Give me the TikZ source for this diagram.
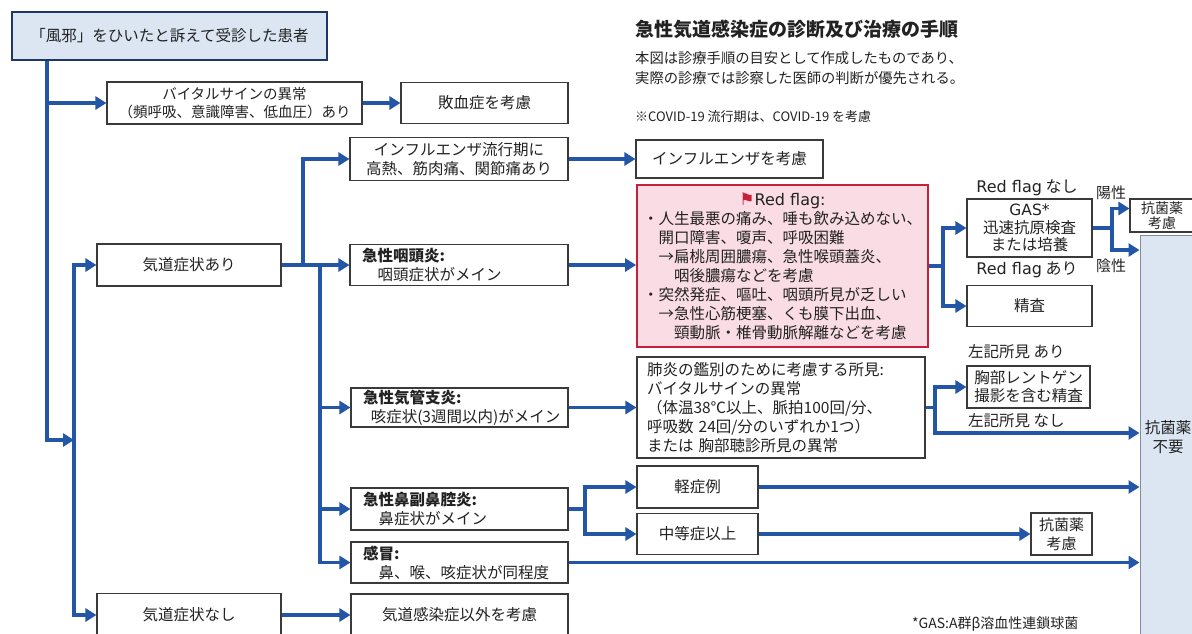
\documentclass[tikz,border=0pt]{standalone}
\usepackage{fontspec}
\setmainfont{Noto Sans CJK JP}
\newfontfamily\dv{DejaVu Sans}
\usetikzlibrary{arrows.meta}
\definecolor{arrc}{HTML}{2356A6}
\definecolor{boxc}{HTML}{3A3A3A}
\definecolor{txt}{HTML}{222222}
\definecolor{navy}{HTML}{1F3763}
\definecolor{lblue}{HTML}{DCE6F3}
\definecolor{pinkf}{HTML}{FADCE5}
\definecolor{rfred}{HTML}{C8203A}
\definecolor{bigc}{HTML}{7F8C9C}
\newcommand\bxf{\fontsize{15.5}{19}\selectfont}
\begin{document}
\begin{tikzpicture}[x=1pt,y=-1pt,
 box/.style={draw=boxc,line width=1.1pt,fill=white,text=txt,inner sep=0pt,align=center,font=\bxf},
 lbox/.style={box,align=left,inner xsep=12pt},
 arr/.style={draw=arrc,line width=3.8pt,-{Triangle[length=11pt,width=13pt]},line join=miter},
 ln/.style={draw=arrc,line width=3.8pt},
 lbl/.style={text=txt,inner sep=0pt,font=\bxf}
]
\clip (0,0) rectangle (1192,633);
\fill[white] (0,0) rectangle (1192,633);

% titles
\node[anchor=west,text=txt,inner sep=0pt,font=\fontsize{19}{22}\selectfont\bfseries] (title) at (635,29) {急性気道感染症の診断及び治療の手順};
\node[anchor=west,text=txt,inner sep=0pt,align=left,font=\fontsize{14.3}{20}\selectfont] (sub) at (635,68) {本図は診療手順の目安として作成したものであり、\\実際の診療では診察した医師の判断が優先される。};
\node[anchor=west,text=txt,inner sep=0pt,font=\fontsize{13}{16}\selectfont] (covid) at (635,117) {※COVID-19 流行期は、COVID-19 を考慮};
\node[anchor=west,text=txt,inner sep=0pt,font=\fontsize{14}{16}\selectfont] (foot) at (912,624) {*GAS:A群β溶血性連鎖球菌};

% big box
\node[box,fill=lblue,draw=bigc,line width=1pt,minimum width=56pt,minimum height=405pt] (big) at (1168,437.5) {抗菌薬\\不要};

% nodes
\node[box,fill=lblue,draw=navy,line width=2.4pt,minimum width=315pt,minimum height=48pt] (top) at (169.5,36) {「風邪」をひいたと訴えて受診した患者};
\node[box,minimum width=255pt,minimum height=42pt,font=\fontsize{14.5}{18}\selectfont] (vital) at (234.5,103) {バイタルサインの異常\\（頻呼吸、意識障害、低血圧）あり};
\node[box,minimum width=167pt,minimum height=41pt] (sepsis) at (484.5,103) {敗血症を考慮};
\node[box,minimum width=184pt,minimum height=42pt] (ari) at (189,265) {気道症状あり};
\node[box,minimum width=184pt,minimum height=43pt] (nashi) at (189,615) {気道症状なし};

\node[box,minimum width=218pt,minimum height=43pt] (flu) at (459,159) {インフルエンザ流行期に\\高熱、筋肉痛、関節痛あり};
\node[lbox,text width=194pt,minimum height=41pt] (pharyn) at (459,265) {\textbf{急性咽頭炎:}\\\hspace*{1em}咽頭症状がメイン};
\node[lbox,text width=193pt,minimum height=39pt] (bronch) at (459.5,407.5) {\textbf{急性気管支炎:}\\\hspace*{0.5em}咳症状(3週間以内)がメイン};
\node[lbox,text width=193pt,minimum height=42pt] (sinus) at (459.5,509) {\textbf{急性鼻副鼻腔炎:}\\\hspace*{1em}鼻症状がメイン};
\node[lbox,text width=193pt,minimum height=41pt] (cold) at (459.5,562.5) {\textbf{感冒:}\\\hspace*{1em}鼻、喉、咳症状が同程度};
\node[box,minimum width=217pt,minimum height=42pt] (other) at (459.5,615) {気道感染症以外を考慮};

\node[box,minimum width=187pt,minimum height=38pt] (fluC) at (729.5,159) {インフルエンザを考慮};
\node[box,fill=pinkf,draw=rfred,line width=1.8pt,align=left,inner xsep=6pt,text width=279pt,minimum height=162pt] (redflag) at (782.5,266) {\makebox[279pt][c]{{\dv\fontsize{17}{19}\selectfont\color{rfred}⚑}{\dv\fontsize{16}{19}\selectfont Red flag:}}\\
・人生最悪の痛み、唾も飲み込めない、\\
\hspace*{1em}開口障害、嗄声、呼吸困難\\
\hspace*{1em}→扁桃周囲膿瘍、急性喉頭蓋炎、\\
\hspace*{2em}咽後膿瘍などを考慮\\
・突然発症、嘔吐、咽頭所見が乏しい\\
\hspace*{1em}→急性心筋梗塞、くも膜下出血、\\
\hspace*{2em}頸動脈・椎骨動脈解離などを考慮};
\node[box,align=left,inner xsep=10pt,text width=268pt,minimum height=101pt] (pneu) at (781,407.5) {肺炎の鑑別のために考慮する所見:\\
バイタルサインの異常\\
（体温38℃以上、脈拍100回/分、\\
呼吸数 24回/分のいずれか1つ）\\
または 胸部聴診所見の異常};

\node[box,minimum width=125pt,minimum height=58pt,font=\fontsize{15.5}{17.5}\selectfont] (GAS) at (1029.5,228) {{\dv GAS*}\\迅速抗原検査\\または培養};
\node[box,minimum width=125pt,minimum height=41pt] (seisa) at (1029.5,306) {精査};
\node[box,minimum width=123pt,minimum height=42pt,font=\fontsize{15.5}{18}\selectfont] (xray) at (1028.5,387) {胸部レントゲン\\撮影を含む精査};
\node[box,minimum width=64pt,minimum height=33pt,font=\fontsize{14}{14.5}\selectfont] (kouki1) at (1162,215.5) {抗菌薬\\考慮};
\node[box,minimum width=121pt,minimum height=42pt] (mild) at (697.5,487) {軽症例};
\node[box,minimum width=121pt,minimum height=41pt] (mod) at (697.5,534) {中等症以上};
\node[box,minimum width=61pt,minimum height=42pt,font=\fontsize{15}{19}\selectfont] (kouki2) at (1061.5,534) {抗菌薬\\考慮};

% labels
\node[lbl,font=\fontsize{16}{19}\selectfont] (rfn) at (1027,188) {{\dv Red flag} なし};
\node[lbl,font=\fontsize{16}{19}\selectfont] (rfa) at (1027,270) {{\dv Red flag} あり};
\node[lbl,font=\fontsize{15}{18}\selectfont] (pos) at (1111,193) {陽性};
\node[lbl,font=\fontsize{15}{18}\selectfont] (neg) at (1111,266) {陰性};
\node[lbl,anchor=west] (sa) at (968,352) {左記所見 あり};
\node[lbl,anchor=west] (sn) at (968,421) {左記所見 なし};

% junction coordinates
\coordinate (j1) at (47,440);
\coordinate (j2) at (74,440);
\coordinate (j3) at (303,0);
\coordinate (j4) at (320,0);
\coordinate (jr) at (943,0);
\coordinate (jg) at (1112,0);
\coordinate (jgb) at (1112,250);
\coordinate (jp) at (935,0);
\coordinate (jpn) at (935,433);
\coordinate (js) at (585,0);

% connectors
\draw[arr] (top.south -| j1) |- (vital.west);
\draw[arr] (top.south -| j1) -- (j1) -- (j2);
\draw[arr] (j2) |- (ari.west);
\draw[arr] (j2) |- (nashi.west);
\draw[arr] (vital.east) -- (sepsis.west);
\draw[arr] (ari.east) -- (pharyn.west);
\draw[arr] (ari.east -| j3) |- (flu.west);
\draw[arr] (ari.east -| j4) |- (cold.west);
\draw[arr] (j4 |- bronch.west) -- (bronch.west);
\draw[arr] (j4 |- sinus.west) -- (sinus.west);
\draw[arr] (nashi.east) -- (other.west);
\draw[arr] (flu.east) -- (fluC.west);
\draw[arr] (pharyn.east) -- (pharyn.east -| redflag.west);
\draw[ln] (redflag.east) -- (redflag.east -| jr);
\draw[arr] (redflag.east -| jr) |- (GAS.west);
\draw[arr] (redflag.east -| jr) |- (seisa.west);
\draw[ln] (GAS.east) -- (GAS.east -| jg);
\draw[arr] (GAS.east -| jg) |- ([yshift=7pt]kouki1.west);
\draw[arr] (GAS.east -| jg) -- (jgb) -- (jgb -| big.west);
\draw[arr] (bronch.east) -- (pneu.west);
\draw[ln] (pneu.east) -- (pneu.east -| jp);
\draw[arr] (pneu.east -| jp) |- (xray.west);
\draw[arr] (pneu.east -| jp) -- (jpn) -- (jpn -| big.west);
\draw[ln] (sinus.east) -- (sinus.east -| js);
\draw[arr] (sinus.east -| js) |- (mild.west);
\draw[arr] (sinus.east -| js) |- (mod.west);
\draw[arr] (mild.east) -- (mild.east -| big.west);
\draw[arr] (mod.east) -- (kouki2.west);
\draw[arr] (cold.east) -- (cold.east -| big.west);
\end{tikzpicture}
\end{document}
